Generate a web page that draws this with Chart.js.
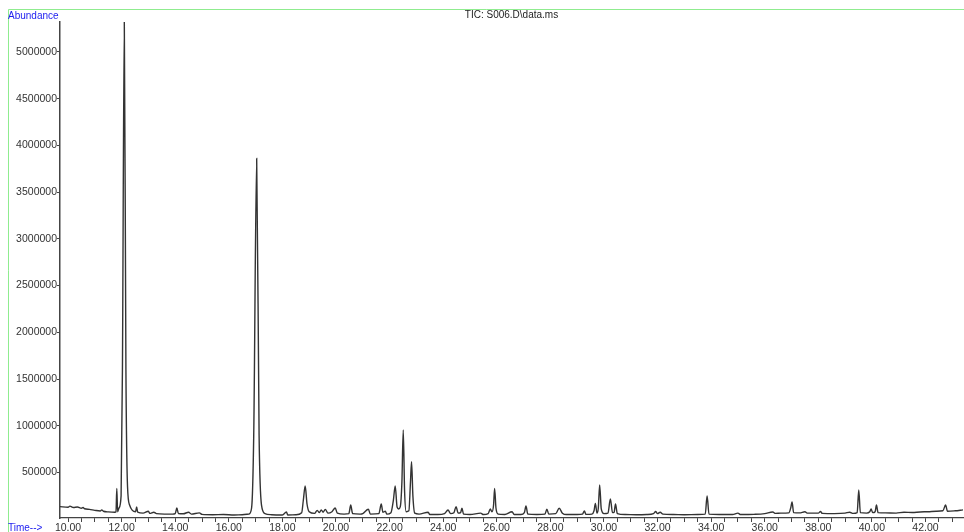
<!DOCTYPE html>
<html>
<head>
<meta charset="utf-8">
<title>TIC: S006.D\data.ms</title>
<script src="https://cdn.jsdelivr.net/npm/chart.js@4.4.1/dist/chart.umd.min.js"></script>
<style>
  html, body { margin: 0; padding: 0; background: #fff; }
  #wrap { width: 964px; height: 532px; }
</style>
</head>
<body>
<div id="wrap"><canvas id="tic" width="964" height="532"></canvas></div>
<script>
// retention time (min)
const times = [
  9.70, 10.00, 10.07, 10.20, 10.35, 10.50, 10.56, 10.62, 10.80, 11.00, 11.20, 11.26, 11.32, 11.50, 11.75,
  11.79, 11.82, 11.85, 11.90, 11.98, 12.03, 12.10, 12.16, 12.22, 12.30, 12.40, 12.52, 12.56, 12.60,
  12.80, 13.00, 13.05, 13.20, 13.30, 13.60, 13.90, 14.00, 14.06, 14.12, 14.30, 14.50, 14.60, 14.90, 15.00,
  15.40, 15.80, 16.20, 16.50, 16.75, 16.85, 16.93, 17.04, 17.13, 17.22, 17.35, 17.60, 18.00, 18.15, 18.20,
  18.50, 18.72, 18.78, 18.85, 18.92, 19.00, 19.20, 19.30, 19.38, 19.45, 19.52, 19.60, 19.70, 19.85, 19.97,
  20.05, 20.30, 20.48, 20.55, 20.62, 20.90, 21.00, 21.21, 21.28, 21.60, 21.69, 21.75, 21.84, 21.90, 22.05,
  22.14, 22.21, 22.28, 22.34, 22.40, 22.46, 22.51, 22.56, 22.62, 22.72, 22.78, 22.82, 22.87, 22.94, 23.10,
  23.44, 23.50, 23.80, 24.05, 24.18, 24.28, 24.40, 24.48, 24.56, 24.65, 24.70, 24.76, 25.00, 25.40, 25.50,
  25.68, 25.76, 25.82, 25.88, 25.92, 25.97, 26.05, 26.30, 26.57, 26.65, 26.90, 27.03, 27.09, 27.16, 27.50,
  27.80, 27.87, 27.94, 28.20, 28.33, 28.45, 28.60, 29.00, 29.20, 29.27, 29.33, 29.55, 29.63, 29.68, 29.74,
  29.79, 29.84, 29.90, 30.00, 30.15, 30.24, 30.32, 30.38, 30.43, 30.50, 30.80, 31.20, 31.60, 31.85, 31.93,
  32.00, 32.10, 32.20, 32.60, 33.00, 33.50, 33.78, 33.85, 33.92, 34.30, 34.80, 35.00, 35.10, 35.60, 36.00,
  36.30, 36.40, 36.60, 36.90, 36.97, 37.02, 37.08, 37.30, 37.50, 37.60, 38.00, 38.08, 38.15, 38.60, 39.00,
  39.17, 39.30, 39.45, 39.51, 39.57, 39.80, 39.92, 39.97, 40.03, 40.12, 40.17, 40.23, 40.50, 40.90, 41.20,
  41.50, 41.80, 42.10, 42.40, 42.65, 42.75, 42.82, 43.10, 43.40
];

// total ion abundance at each time
const abundance = [
  135000, 128000, 140000, 125000, 130000, 118000, 125000, 112000, 105000, 95000, 88000, 100000, 85000, 78000, 75000,
  80000, 330000, 80000, 120000, 250000, 1600000, 5320000, 1600000, 350000, 150000, 95000, 80000, 130000, 75000,
  65000, 85000, 62000, 75000, 60000, 55000, 55000, 60000, 120000, 60000, 58000, 75000, 55000, 68000, 52000,
  48000, 50000, 45000, 48000, 55000, 120000, 900000, 3860000, 900000, 150000, 60000, 48000, 45000, 77000, 45000,
  48000, 70000, 200000, 355000, 160000, 80000, 62000, 95000, 70000, 100000, 75000, 105000, 65000, 80000, 120000,
  65000, 55000, 60000, 152000, 60000, 55000, 60000, 106000, 55000, 60000, 163000, 75000, 85000, 55000, 70000,
  200000, 355000, 130000, 110000, 134000, 400000, 955000, 300000, 80000, 90000, 400000, 615000, 250000, 65000, 55000,
  75000, 50000, 50000, 60000, 98000, 60000, 70000, 134000, 65000, 70000, 117000, 55000, 50000, 65000, 50000,
  60000, 109000, 80000, 150000, 330000, 120000, 55000, 50000, 80000, 50000, 50000, 70000, 141000, 55000, 50000,
  55000, 106000, 55000, 60000, 117000, 65000, 50000, 50000, 55000, 88000, 52000, 55000, 90000, 170000, 65000,
  120000, 366000, 110000, 60000, 65000, 216000, 70000, 75000, 163000, 60000, 50000, 48000, 50000, 60000, 82000,
  60000, 75000, 55000, 50000, 48000, 50000, 55000, 248000, 55000, 50000, 50000, 65000, 50000, 52000, 60000,
  78000, 62000, 65000, 68000, 120000, 184000, 70000, 68000, 80000, 65000, 65000, 82000, 62000, 60000, 65000,
  75000, 62000, 70000, 312000, 70000, 65000, 80000, 109000, 70000, 80000, 152000, 70000, 68000, 65000, 75000,
  72000, 78000, 80000, 85000, 90000, 152000, 85000, 90000, 100000
];

// axis ticks
const yTickValues = [500000, 1000000, 1500000, 2000000, 2500000, 3000000, 3500000, 4000000, 4500000, 5000000];
const xTickLabels = ['10.00', '12.00', '14.00', '16.00', '18.00', '20.00', '22.00', '24.00', '26.00', '28.00', '30.00', '32.00', '34.00', '36.00', '38.00', '40.00', '42.00'];

const points = times.map((t, i) => ({ x: t, y: abundance[i] }));

// frame, title and axis captions, drawn like the ChemStation print
const decor = {
  id: 'decor',
  afterDraw(chart) {
    const c = chart.ctx;
    const area = chart.chartArea;
    c.save();
    c.strokeStyle = '#8fec8f';
    c.lineWidth = 1;
    c.beginPath();
    c.moveTo(8.5, 532);
    c.lineTo(8.5, 9.5);
    c.lineTo(964, 9.5);
    c.stroke();

    c.font = '10px "Liberation Sans", Arial, sans-serif';
    c.fillStyle = '#1c1cf0';
    c.textBaseline = 'middle';
    c.textAlign = 'left';
    c.fillText('Abundance', 8, 16);
    c.fillText('Time-->', 8, 528);

    c.fillStyle = '#222';
    c.textAlign = 'center';
    c.fillText('TIC: S006.D\\data.ms', (area.left + area.right) / 2, 15);
    c.restore();
  }
};

const ctx = document.getElementById('tic').getContext('2d');
const ticChart = new Chart(ctx, {
  type: 'line',
  data: {
    datasets: [{
      data: points,
      borderColor: '#333',
      borderWidth: 1.4,
      pointRadius: 0,
      cubicInterpolationMode: 'monotone',
      fill: false
    }]
  },
  options: {
    responsive: false,
    animation: false,
    devicePixelRatio: 1,
    layout: { padding: { top: 22, left: 8, right: 1, bottom: 0 } },
    plugins: {
      legend: { display: false },
      tooltip: { enabled: false },
      title: { display: false }
    },
    scales: {
      x: {
        type: 'linear',
        min: 9.7,
        max: 43.4,
        afterBuildTicks: (scale) => {
          const ticks = [];
          for (let v = 10; v <= 43.01; v += 0.5) ticks.push({ value: v });
          scale.ticks = ticks;
        },
        afterFit: (scale) => { scale.height = 14; },
        border: { display: true, color: '#444', width: 1.2 },
        grid: { display: true, drawOnChartArea: false, drawTicks: true, tickLength: 4, color: '#444' },
        ticks: {
          autoSkip: false,
          maxRotation: 0,
          padding: 0,
          color: '#333',
          font: { family: '"Liberation Sans", Arial, sans-serif', size: 10.5 },
          callback: (v) => {
            const lbl = Number(v).toFixed(2);
            return xTickLabels.includes(lbl) ? lbl : '';
          }
        }
      },
      y: {
        type: 'linear',
        min: 13000,
        max: 5321000,
        afterBuildTicks: (scale) => {
          scale.ticks = yTickValues.map(v => ({ value: v }));
        },
        afterFit: (scale) => { scale.width = 52; },
        border: { display: true, color: '#444', width: 1.5 },
        grid: { display: true, drawOnChartArea: false, drawTicks: true, tickLength: 3, color: '#444' },
        ticks: {
          padding: 0,
          color: '#333',
          font: { family: '"Liberation Sans", Arial, sans-serif', size: 10.5 },
          callback: (v) => String(v)
        }
      }
    }
  },
  plugins: [decor]
});
</script>
</body>
</html>
